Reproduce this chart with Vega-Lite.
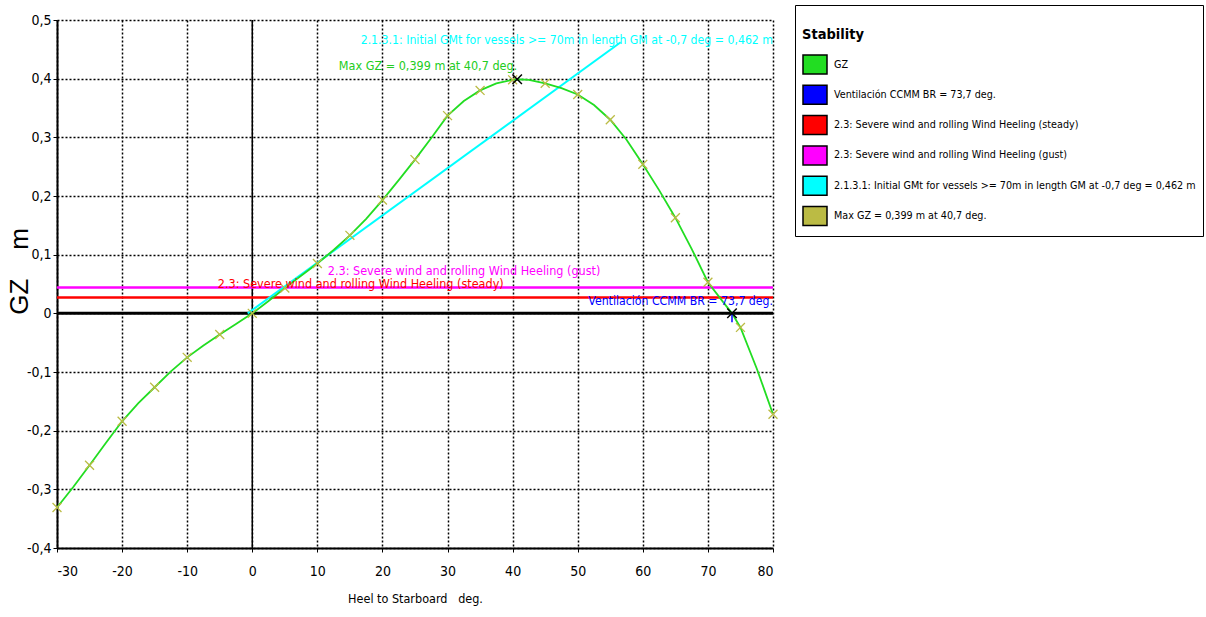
{
  "$schema": "https://vega.github.io/schema/vega-lite/v6.json",
  "width": 716,
  "height": 528,
  "autosize": {"type": "none"},
  "padding": {"left": 57, "top": 20, "right": 433, "bottom": 69},
  "background": "white",
  "config": {
    "view": {"stroke": null},
    "font": "DejaVu Sans Condensed, sans-serif",
    "axis": {
      "gridColor": "black", "gridDash": [2, 2], "gridWidth": 1.5, "gridOpacity": 1,
      "domainColor": "black", "domainWidth": 2, "tickColor": "black", "tickSize": 4,
      "labelColor": "black", "labelFontSize": 14, "labelFont": "DejaVu Sans Condensed, sans-serif",
      "titleColor": "black", "titleFontWeight": "normal", "titleFont": "DejaVu Sans Condensed, sans-serif"
    }
  },
  "datasets": {
    "gz": [
      {"heel": -30, "gz": -0.331}, {"heel": -27.5, "gz": -0.296}, {"heel": -25, "gz": -0.259},
      {"heel": -22.5, "gz": -0.221}, {"heel": -20, "gz": -0.184}, {"heel": -17.5, "gz": -0.153},
      {"heel": -15, "gz": -0.126}, {"heel": -12.5, "gz": -0.099}, {"heel": -10, "gz": -0.075},
      {"heel": -7.5, "gz": -0.055}, {"heel": -5, "gz": -0.036}, {"heel": -2.5, "gz": -0.018},
      {"heel": 0, "gz": 0}, {"heel": 2.5, "gz": 0.021}, {"heel": 5, "gz": 0.043},
      {"heel": 7.5, "gz": 0.064}, {"heel": 10, "gz": 0.085}, {"heel": 12.5, "gz": 0.108},
      {"heel": 15, "gz": 0.133}, {"heel": 17.5, "gz": 0.161}, {"heel": 20, "gz": 0.193},
      {"heel": 22.5, "gz": 0.227}, {"heel": 25, "gz": 0.262}, {"heel": 27.5, "gz": 0.299},
      {"heel": 30, "gz": 0.337}, {"heel": 32.5, "gz": 0.362}, {"heel": 35, "gz": 0.380},
      {"heel": 37.5, "gz": 0.392}, {"heel": 40, "gz": 0.398}, {"heel": 40.7, "gz": 0.399},
      {"heel": 42.5, "gz": 0.398}, {"heel": 45, "gz": 0.392}, {"heel": 47.5, "gz": 0.384},
      {"heel": 50, "gz": 0.373}, {"heel": 52.5, "gz": 0.355}, {"heel": 55, "gz": 0.330},
      {"heel": 57.5, "gz": 0.296}, {"heel": 60, "gz": 0.254}, {"heel": 62.5, "gz": 0.210},
      {"heel": 65, "gz": 0.163}, {"heel": 67.5, "gz": 0.110}, {"heel": 70, "gz": 0.053},
      {"heel": 72.5, "gz": 0.017}, {"heel": 73.7, "gz": 0}, {"heel": 75, "gz": -0.024},
      {"heel": 77.5, "gz": -0.094}, {"heel": 80, "gz": -0.172}
    ],
    "zero": [{"v": 0}],
    "levels": [
      {"series": "2.3: Severe wind and rolling Wind Heeling (steady)", "gz": 0.027},
      {"series": "2.3: Severe wind and rolling Wind Heeling (gust)", "gz": 0.044}
    ],
    "gm": [
      {"series": "2.1.3.1: Initial GMt for vessels >= 70m in length GM at -0,7 deg = 0,462 m", "heel": -0.7, "gz": 0},
      {"series": "2.1.3.1: Initial GMt for vessels >= 70m in length GM at -0,7 deg = 0,462 m", "heel": 56.6, "gz": 0.462}
    ],
    "points": [
      {"name": "max", "heel": 40.7, "gz": 0.399},
      {"name": "vent", "heel": 73.7, "gz": 0}
    ],
    "vent": [{"series": "Ventilación CCMM BR = 73,7 deg.", "heel": 73.7, "gz": 0, "gz2": -0.015}],
    "labelsRight": [
      {"series": "2.1.3.1: Initial GMt for vessels >= 70m in length GM at -0,7 deg = 0,462 m", "text": "2.1.3.1: Initial GMt for vessels >= 70m in length GM at -0,7 deg = 0,462 m", "heel": 80, "gz": 0.459},
      {"series": "Ventilación CCMM BR = 73,7 deg.", "text": "Ventilación CCMM BR = 73,7 deg.", "heel": 80, "gz": 0.0136}
    ],
    "labelsLeft": [
      {"series": "2.3: Severe wind and rolling Wind Heeling (steady)", "text": "2.3: Severe wind and rolling Wind Heeling (steady)", "heel": -5.3, "gz": 0.044},
      {"series": "2.3: Severe wind and rolling Wind Heeling (gust)", "text": "2.3: Severe wind and rolling Wind Heeling (gust)", "heel": 11.6, "gz": 0.066}
    ],
    "labelMax": [{"text": "Max GZ = 0,399 m at 40,7 deg.", "heel": 40.7, "gz": 0.414}]
  },
  "encoding": {
    "x": {
      "field": "heel", "type": "quantitative",
      "scale": {"domain": [-30, 80], "nice": false, "zero": false},
      "axis": {"values": [-30, -20, -10, 0, 10, 20, 30, 40, 50, 60, 70, 80], "labelExpr": "replace(format(datum.value, 'd'), '\u2212', '-')", "title": "Heel to Starboard\u00a0\u00a0\u00a0deg.", "titleFontSize": 12.5, "titlePadding": 14, "labelPadding": 12}
    },
    "y": {
      "field": "gz", "type": "quantitative",
      "scale": {"domain": [-0.4, 0.5], "nice": false, "zero": false},
      "axis": {"values": [-0.4, -0.3, -0.2, -0.1, 0, 0.1, 0.2, 0.3, 0.4, 0.5], "labelExpr": "replace(replace(format(datum.value, '.1~f'), '.', ','), '\u2212', '-')", "title": "GZ\u00a0\u00a0\u00a0\u00a0m", "titleFont": "Liberation Sans, Arial, sans-serif", "titleFontSize": 26, "titleX": -30, "titleY": 251, "titleAlign": "center", "titleBaseline": "alphabetic", "labelPadding": 2}
    }
  },
  "layer": [
    {
      "data": {"name": "zero"},
      "mark": {"type": "rule", "color": "black", "strokeWidth": 1.5},
      "encoding": {"x": {"field": "v", "type": "quantitative"}, "y": null}
    },
    {
      "data": {"name": "zero"},
      "mark": {"type": "rule", "color": "black", "strokeWidth": 3},
      "encoding": {"y": {"field": "v", "type": "quantitative"}, "x": null}
    },
    {
      "data": {"name": "levels"},
      "mark": {"type": "rule", "strokeWidth": 2.5},
      "encoding": {
        "x": null,
        "stroke": {"field": "series", "type": "nominal", "legend": null,
          "scale": {"domain": ["Max GZ = 0,399 m at 40,7 deg.", "2.1.3.1: Initial GMt for vessels >= 70m in length GM at -0,7 deg = 0,462 m", "2.3: Severe wind and rolling Wind Heeling (gust)", "2.3: Severe wind and rolling Wind Heeling (steady)", "Ventilación CCMM BR = 73,7 deg.", "GZ"],
            "range": ["#bbbb44", "#00ffff", "#ff00ff", "#ff0000", "#0000ff", "#22dd22"]}}
      }
    },
    {
      "data": {"name": "gm"},
      "mark": {"type": "line", "strokeWidth": 2},
      "encoding": {
        "stroke": {"field": "series", "type": "nominal", "legend": null}
      }
    },
    {
      "data": {"name": "gz"},
      "mark": {"type": "line", "strokeWidth": 1.8},
      "encoding": {
        "stroke": {"datum": "GZ", "type": "nominal", "legend": null}
      }
    },
    {
      "data": {"name": "gz"},
      "transform": [{"filter": "datum.heel % 5 == 0"}],
      "mark": {"type": "point", "shape": "M-1,-1L1,1M-1,1L1,-1", "size": 80, "strokeWidth": 1.3, "filled": false, "opacity": 1},
      "encoding": {
        "stroke": {"datum": "Max GZ = 0,399 m at 40,7 deg.", "type": "nominal", "legend": null}
      }
    },
    {
      "data": {"name": "vent"},
      "mark": {"type": "rule", "strokeWidth": 1.5},
      "encoding": {
        "y2": {"field": "gz2"},
        "stroke": {"field": "series", "type": "nominal", "legend": null}
      }
    },
    {
      "data": {"name": "points"},
      "mark": {"type": "point", "shape": "M-1,-1L1,1M-1,1L1,-1", "size": 90, "strokeWidth": 1.5, "filled": false, "color": "black", "opacity": 1}
    },
    {
      "data": {"name": "labelsRight"},
      "mark": {"type": "text", "align": "right", "baseline": "alphabetic", "fontSize": 12.2},
      "encoding": {
        "text": {"field": "text"},
        "fill": {"field": "series", "type": "nominal",
          "scale": {"domain": ["GZ", "Ventilación CCMM BR = 73,7 deg.", "2.3: Severe wind and rolling Wind Heeling (steady)", "2.3: Severe wind and rolling Wind Heeling (gust)", "2.1.3.1: Initial GMt for vessels >= 70m in length GM at -0,7 deg = 0,462 m", "Max GZ = 0,399 m at 40,7 deg."],
            "range": ["#22dd22", "#0000ff", "#ff0000", "#ff00ff", "#00ffff", "#bbbb44"]},
          "legend": {
            "title": ["", "Stability"], "orient": "none", "legendX": 738, "legendY": -15,
            "titleFontSize": 14.5, "titleFontWeight": "bold", "titleColor": "black", "titlePadding": 9, "titleLineHeight": 16,
            "labelFontSize": 10.7, "labelColor": "black", "labelLimit": 600, "labelOffset": 6,
            "symbolType": "M-1,-0.79H1V0.79H-1Z", "symbolSize": 576, "symbolStrokeColor": "black", "symbolStrokeWidth": 1.5, "symbolOpacity": 1,
            "rowPadding": 4.3, "padding": 7, "strokeColor": "black", "fillColor": "white"
          }
        }
      }
    },
    {
      "data": {"name": "labelsLeft"},
      "mark": {"type": "text", "align": "left", "baseline": "alphabetic", "fontSize": 12.5},
      "encoding": {
        "text": {"field": "text"},
        "fill": {"field": "series", "type": "nominal"}
      }
    },
    {
      "data": {"name": "labelMax"},
      "mark": {"type": "text", "align": "right", "baseline": "alphabetic", "fontSize": 12.5, "fill": "#22cc22"},
      "encoding": {"text": {"field": "text"}}
    }
  ]
}
